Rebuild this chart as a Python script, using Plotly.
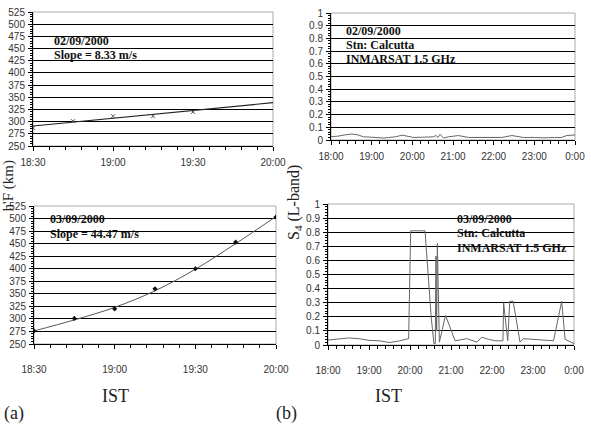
import plotly.graph_objects as go
import pandas as pd

# ---------------- data ----------------
# (a) top: 02/09/2000 h'F
hf1_times = ["18:30", "18:45", "19:00", "19:15", "19:30"]
hf1_vals = [287, 301, 311, 311, 320]
hf1_trend_times = ["18:30", "20:00"]
hf1_trend_vals = [291, 339]

# (a) bottom: 03/09/2000 h'F
hf2_times = ["18:30", "18:45", "19:00", "19:15", "19:30", "19:45", "20:00"]
hf2_vals = [276, 301, 320, 360, 400, 453, 503]
hf2_trend_vals = [276, 298, 323, 356, 399, 450, 504]

# (b) top: 02/09/2000 S4
s4a_times = ["18:00", "18:10", "18:20", "18:31", "18:40", "18:48", "19:00", "19:13", "19:18",
             "19:25", "19:35", "19:45", "19:53", "20:02", "20:15", "20:31", "20:35", "20:38",
             "20:41", "20:46", "20:53", "21:08", "21:23", "21:40", "22:00", "22:12", "22:27",
             "22:44", "23:00", "23:14", "23:30", "23:40", "23:48", "0:00"]
s4a_vals = [0.026, 0.03, 0.04, 0.047, 0.04, 0.025, 0.022, 0.02, 0.015,
            0.02, 0.025, 0.038, 0.03, 0.02, 0.022, 0.025, 0.035, 0.02,
            0.045, 0.015, 0.025, 0.035, 0.02, 0.02, 0.015, 0.02, 0.035,
            0.02, 0.02, 0.017, 0.02, 0.02, 0.035, 0.04]

# (b) bottom: 03/09/2000 S4
s4b_times = ["18:00", "18:15", "18:30", "18:45", "19:00", "19:15", "19:30", "19:45", "19:58",
             "20:01", "20:22", "20:31", "20:35", "20:37", "20:38", "20:39", "20:40", "20:43",
             "20:52", "21:06", "21:23", "21:38", "21:45", "21:55", "22:05", "22:16", "22:17",
             "22:23", "22:26", "22:31", "22:41", "22:46", "23:00", "23:18", "23:30", "23:42",
             "23:47", "0:00"]
s4b_vals = [0.035, 0.04, 0.05, 0.045, 0.033, 0.03, 0.017, 0.03, 0.045,
            0.81, 0.81, 0.2, 0.01, 0.01, 0.63, 0.1, 0.72, 0.02,
            0.21, 0.03, 0.045, 0.02, 0.055, 0.04, 0.03, 0.03, 0.30,
            0.03, 0.31, 0.31, 0.02, 0.045, 0.04, 0.03, 0.03, 0.31,
            0.04, 0.01]

left_ticks = ["18:30", "19:00", "19:30", "20:00"]
right_ticks = ["18:00", "19:00", "20:00", "21:00", "22:00", "23:00", "0:00"]

BASE = "2000-09-02"


def to_dt(times):
    out = []
    for t in times:
        h, m = t.split(":")
        d = pd.Timestamp(BASE) + pd.Timedelta(hours=int(h), minutes=int(m))
        if int(h) < 12:
            d += pd.Timedelta(days=1)
        out.append(d)
    return out


fig = go.Figure()

LINE_GREY = "#666666"

# top-left
fig.add_trace(go.Scatter(x=to_dt(hf1_trend_times), y=hf1_trend_vals, mode="lines",
                         line=dict(color="#222222", width=1.2), xaxis="x", yaxis="y"))
fig.add_trace(go.Scatter(x=to_dt(hf1_times), y=hf1_vals, mode="markers",
                         marker=dict(symbol="x-thin", size=4, color="#555555",
                                     line=dict(width=1, color="#555555")),
                         xaxis="x", yaxis="y"))
# top-right
fig.add_trace(go.Scatter(x=to_dt(s4a_times), y=s4a_vals, mode="lines",
                         line=dict(color=LINE_GREY, width=1), xaxis="x2", yaxis="y2"))
# bottom-left
fig.add_trace(go.Scatter(x=to_dt(hf2_times), y=hf2_trend_vals, mode="lines",
                         line=dict(color="#555555", width=1, shape="spline"),
                         xaxis="x3", yaxis="y3"))
fig.add_trace(go.Scatter(x=to_dt(hf2_times), y=hf2_vals, mode="markers",
                         marker=dict(symbol="diamond", size=4, color="#111111"),
                         xaxis="x3", yaxis="y3"))
# bottom-right
fig.add_trace(go.Scatter(x=to_dt(s4b_times), y=s4b_vals, mode="lines",
                         line=dict(color=LINE_GREY, width=1), xaxis="x4", yaxis="y4"))

W, H = 591, 430


def px_dom_x(a, b):
    return [a / W, b / W]


def px_dom_y(top, bottom):
    return [1 - bottom / H, 1 - top / H]


tickfont = dict(family="Liberation Sans Narrow, Arial Narrow, Liberation Sans, Arial",
                size=10, color="#333333")


def xaxis(dom, anchor, ticks, minor_ms, rng, standoff):
    return dict(domain=dom, anchor=anchor, type="date", range=rng, automargin=False,
                tickvals=to_dt(ticks), ticktext=ticks, tickfont=tickfont,
                showgrid=False, showline=True, linecolor="black", linewidth=1,
                ticks="outside", ticklen=4, tickcolor="black",
                minor=dict(ticks="outside", ticklen=3, tickcolor="black",
                           dtick=minor_ms, showgrid=False, tick0=to_dt(ticks)[0]),
                ticklabelstandoff=standoff, zeroline=False)


def yaxis(dom, anchor, rng, dtick, minor_dtick):
    return dict(domain=dom, anchor=anchor, range=rng, dtick=dtick, tick0=rng[0],
                automargin=False,
                tickfont=tickfont, showgrid=True, gridcolor="black", gridwidth=1,
                showline=True, linecolor="black", linewidth=1,
                ticks="outside", ticklen=4, tickcolor="black",
                minor=dict(ticks="outside", ticklen=2, tickcolor="black",
                           dtick=minor_dtick, showgrid=False),
                zeroline=False, ticklabelstandoff=1)


MIN = 60 * 1000
lrng = to_dt(["18:30", "20:00"])
rrng = to_dt(["18:00", "0:00"])

dom_tl = (px_dom_x(33, 273), px_dom_y(12, 146))
dom_tr = (px_dom_x(331, 575), px_dom_y(13, 140))
dom_bl = (px_dom_x(34, 276), px_dom_y(206, 344))
dom_br = (px_dom_x(328, 574), px_dom_y(204, 345))

fig.update_layout(
    width=W, height=H, margin=dict(l=0, r=0, t=0, b=0, pad=0, autoexpand=False),
    paper_bgcolor="white", plot_bgcolor="white", showlegend=False,
    xaxis=xaxis(dom_tl[0], "y", left_ticks, 6 * MIN, lrng, 3),
    yaxis=yaxis(dom_tl[1], "x", [250, 525], 25, 5),
    xaxis2=xaxis(dom_tr[0], "y2", right_ticks, 12 * MIN, rrng, 3),
    yaxis2=yaxis(dom_tr[1], "x2", [0, 1], 0.1, 0.02),
    xaxis3=xaxis(dom_bl[0], "y3", left_ticks, 6 * MIN, lrng, 12),
    yaxis3=yaxis(dom_bl[1], "x3", [250, 525], 25, 5),
    xaxis4=xaxis(dom_br[0], "y4", right_ticks, 12 * MIN, rrng, 12),
    yaxis4=yaxis(dom_br[1], "x4", [0, 1], 0.1, 0.02),
)

# light grey plot-area borders
for xr, yr in [("x", "y"), ("x2", "y2"), ("x3", "y3"), ("x4", "y4")]:
    fig.add_shape(type="rect", xref=f"{xr} domain", yref=f"{yr} domain",
                  x0=0, x1=1, y0=0, y1=1, line=dict(color="#aaaaaa", width=1),
                  layer="below")

serif = "Liberation Serif, Times New Roman, serif"
bold_font = dict(family=serif, size=12, color="#111111")


def txt(x, y, s, font, **kw):
    fig.add_annotation(x=x / W, y=1 - y / H, xref="paper", yref="paper", text=s,
                       showarrow=False, font=font, borderpad=0, **kw)


# panel texts
txt(53, 41, "<b>02/09/2000</b>", bold_font, xanchor="left", yanchor="middle")
txt(53, 55, "<b>Slope = 8.33 m/s</b>", bold_font, xanchor="left", yanchor="middle")
txt(345, 31, "<b>02/09/2000</b>", bold_font, xanchor="left", yanchor="middle")
txt(345, 45, "<b>Stn: Calcutta</b>", bold_font, xanchor="left", yanchor="middle")
txt(345, 59, "<b>INMARSAT 1.5 GHz</b>", bold_font, xanchor="left", yanchor="middle")
txt(49, 219, "<b>03/09/2000</b>", bold_font, xanchor="left", yanchor="middle")
txt(49, 234, "<b>Slope = 44.47 m/s</b>", bold_font, xanchor="left", yanchor="middle")
txt(456, 219, "<b>03/09/2000</b>", bold_font, xanchor="left", yanchor="middle")
txt(456, 233, "<b>Stn: Calcutta</b>", bold_font, xanchor="left", yanchor="middle")
txt(456, 248, "<b>INMARSAT 1.5 GHz</b>", bold_font, xanchor="left", yanchor="middle")

big = dict(family=serif, size=18, color="#222222")
ylab = dict(family=serif, size=15, color="#222222")
txt(8.5, 186, "h'F (km)", ylab, textangle=-90, xanchor="center", yanchor="middle")
txt(294, 203, "S<sub>4</sub> (L-band)", dict(family=serif, size=16, color="#222222"),
    textangle=-90, xanchor="center", yanchor="middle")
txt(116, 396, "IST", big, xanchor="center", yanchor="middle")
txt(388, 396, "IST", big, xanchor="center", yanchor="middle")
txt(3, 413, "(a)", big, xanchor="left", yanchor="middle")
txt(275, 413, "(b)", big, xanchor="left", yanchor="middle")

fig.write_html("out.html")
